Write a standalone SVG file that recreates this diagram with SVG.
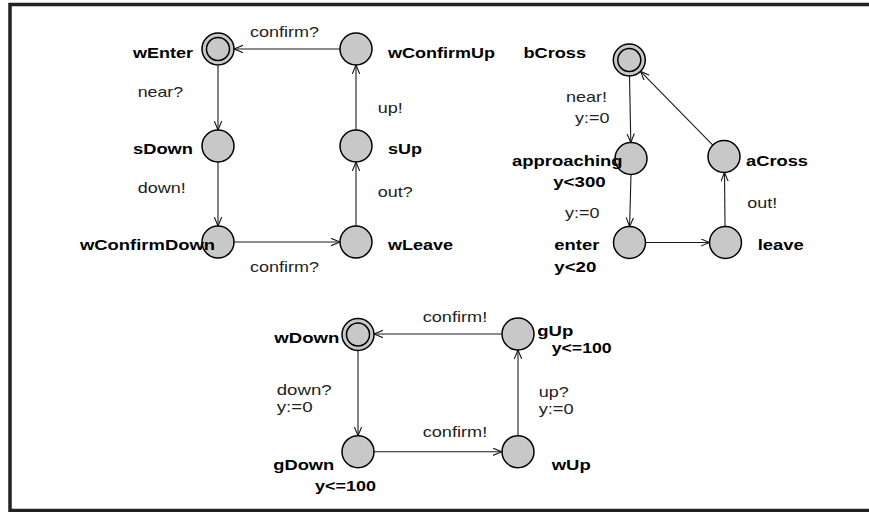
<svg xmlns="http://www.w3.org/2000/svg" width="869" height="512" viewBox="0 0 869 512">
<style>
.loc{fill:#c8c8c8;stroke:#000;stroke-width:1.5}
.inner{fill:none;stroke:#000;stroke-width:1.5}
.edge{fill:none;stroke:#1a1a1a;stroke-width:1.1;marker-end:url(#arr)}
.nm{font-family:"Liberation Sans",Arial,sans-serif;font-weight:bold;font-size:15px;fill:#000}
.lb{font-family:"Liberation Sans",Arial,sans-serif;font-size:15px;fill:#222}
</style>
<defs>
<marker id="arr" markerWidth="12" markerHeight="10" refX="9" refY="4" orient="auto" markerUnits="userSpaceOnUse">
<path d="M0,0.3 L9,4 L0,7.7" fill="none" stroke="#1a1a1a" stroke-width="1.1"/>
</marker>
</defs>
<rect x="0" y="0" width="869" height="512" fill="#fff"/>
<rect x="10" y="4.5" width="880" height="506" fill="none" stroke="#222" stroke-width="3.5"/>

<g id="connectors">
<line class="edge" x1="218" y1="66" x2="218" y2="130"/>
<line class="edge" x1="218" y1="162" x2="218" y2="226"/>
<line class="edge" x1="234" y1="242" x2="340" y2="242"/>
<line class="edge" x1="356" y1="226" x2="356" y2="162"/>
<line class="edge" x1="356" y1="130" x2="356" y2="65"/>
<line class="edge" x1="340" y1="49" x2="234" y2="49"/>

<line class="edge" x1="629.5" y1="76" x2="630.8" y2="142.5"/>
<line class="edge" x1="631" y1="174.5" x2="629.6" y2="226.5"/>
<line class="edge" x1="645.5" y1="242.5" x2="709.5" y2="242.5"/>
<line class="edge" x1="725" y1="226.5" x2="724.5" y2="172.5"/>
<line class="edge" x1="712.8" y1="145.1" x2="640.5" y2="71.4"/>

<line class="edge" x1="358" y1="350.5" x2="358" y2="435.7"/>
<line class="edge" x1="374" y1="451.7" x2="501.8" y2="451.7"/>
<line class="edge" x1="518" y1="435.7" x2="518" y2="350"/>
<line class="edge" x1="501.8" y1="334" x2="374" y2="334"/>
</g>

<g id="wEnter"><circle class="loc" cx="218" cy="49" r="16"/><circle class="inner" cx="218" cy="49" r="11.5"/><text class="nm" x="193" y="58" text-anchor="end" textLength="60" lengthAdjust="spacingAndGlyphs">wEnter</text></g>
<g id="wConfirmUp"><circle class="loc" cx="356" cy="49" r="16"/><text class="nm" x="388" y="58" textLength="107" lengthAdjust="spacingAndGlyphs">wConfirmUp</text></g>
<g id="sDown"><circle class="loc" cx="218" cy="146" r="16"/><text class="nm" x="193" y="154" text-anchor="end" textLength="60" lengthAdjust="spacingAndGlyphs">sDown</text></g>
<g id="sUp"><circle class="loc" cx="356" cy="146" r="16"/><text class="nm" x="388" y="154" textLength="34" lengthAdjust="spacingAndGlyphs">sUp</text></g>
<g id="wConfirmDown"><circle class="loc" cx="218" cy="242" r="16"/><text class="nm" x="215" y="250" text-anchor="end" textLength="135" lengthAdjust="spacingAndGlyphs">wConfirmDown</text></g>
<g id="wLeave"><circle class="loc" cx="356" cy="242" r="16"/><text class="nm" x="388" y="250" textLength="65" lengthAdjust="spacingAndGlyphs">wLeave</text></g>

<g id="bCross"><circle class="loc" cx="629.3" cy="60" r="16"/><circle class="inner" cx="629.3" cy="60" r="11.5"/><text class="nm" x="586" y="58" text-anchor="end" textLength="62.5" lengthAdjust="spacingAndGlyphs">bCross</text></g>
<g id="approaching"><circle class="loc" cx="631" cy="158.5" r="16"/><text class="nm" x="622.5" y="166" text-anchor="end" textLength="110.5" lengthAdjust="spacingAndGlyphs">approaching</text><text class="nm" x="605.7" y="186.7" text-anchor="end" textLength="52.5" lengthAdjust="spacingAndGlyphs">y&lt;300</text></g>
<g id="enter"><circle class="loc" cx="629.5" cy="242.5" r="16"/><text class="nm" x="554.3" y="250" textLength="45" lengthAdjust="spacingAndGlyphs">enter</text><text class="nm" x="554.3" y="271.7" textLength="42" lengthAdjust="spacingAndGlyphs">y&lt;20</text></g>
<g id="leave"><circle class="loc" cx="725.5" cy="242.5" r="16"/><text class="nm" x="757.7" y="250" textLength="46" lengthAdjust="spacingAndGlyphs">leave</text></g>
<g id="aCross"><circle class="loc" cx="724" cy="156.5" r="16"/><text class="nm" x="746" y="165.7" textLength="62" lengthAdjust="spacingAndGlyphs">aCross</text></g>

<g id="wDown"><circle class="loc" cx="358" cy="334.5" r="16"/><circle class="inner" cx="358" cy="334.5" r="11.5"/><text class="nm" x="339.3" y="343.3" text-anchor="end" textLength="65" lengthAdjust="spacingAndGlyphs">wDown</text></g>
<g id="gUp"><circle class="loc" cx="518" cy="334" r="16"/><text class="nm" x="537.3" y="335.7" textLength="36" lengthAdjust="spacingAndGlyphs">gUp</text><text class="nm" x="551.7" y="353.3" textLength="60" lengthAdjust="spacingAndGlyphs">y&lt;=100</text></g>
<g id="gDown"><circle class="loc" cx="358" cy="451.7" r="16"/><text class="nm" x="273.3" y="470" textLength="61" lengthAdjust="spacingAndGlyphs">gDown</text><text class="nm" x="315" y="490.7" textLength="61" lengthAdjust="spacingAndGlyphs">y&lt;=100</text></g>
<g id="wUp"><circle class="loc" cx="518" cy="451.7" r="16"/><text class="nm" x="551.7" y="470" textLength="39" lengthAdjust="spacingAndGlyphs">wUp</text></g>

<g id="labels">
<text class="lb" x="250" y="37" textLength="69" lengthAdjust="spacingAndGlyphs">confirm?</text>
<text class="lb" x="137.7" y="96.7" textLength="45.5" lengthAdjust="spacingAndGlyphs">near?</text>
<text class="lb" x="377.7" y="112.7" textLength="25" lengthAdjust="spacingAndGlyphs">up!</text>
<text class="lb" x="137.7" y="193" textLength="48" lengthAdjust="spacingAndGlyphs">down!</text>
<text class="lb" x="377.7" y="197" textLength="35" lengthAdjust="spacingAndGlyphs">out?</text>
<text class="lb" x="250" y="271.7" textLength="69" lengthAdjust="spacingAndGlyphs">confirm?</text>
<text class="lb" x="566" y="101.7" textLength="41" lengthAdjust="spacingAndGlyphs">near!</text>
<text class="lb" x="575" y="122.7" textLength="34.5" lengthAdjust="spacingAndGlyphs">y:=0</text>
<text class="lb" x="565" y="218.3" textLength="34.5" lengthAdjust="spacingAndGlyphs">y:=0</text>
<text class="lb" x="747.3" y="208.3" textLength="30" lengthAdjust="spacingAndGlyphs">out!</text>
<text class="lb" x="422.7" y="321.7" textLength="64.5" lengthAdjust="spacingAndGlyphs">confirm!</text>
<text class="lb" x="422.7" y="436.7" textLength="64.5" lengthAdjust="spacingAndGlyphs">confirm!</text>
<text class="lb" x="276.7" y="395" textLength="55" lengthAdjust="spacingAndGlyphs">down?</text>
<text class="lb" x="276.7" y="411.7" textLength="36" lengthAdjust="spacingAndGlyphs">y:=0</text>
<text class="lb" x="538.7" y="396.7" textLength="30" lengthAdjust="spacingAndGlyphs">up?</text>
<text class="lb" x="538.7" y="414" textLength="35" lengthAdjust="spacingAndGlyphs">y:=0</text>
</g>
</svg>
